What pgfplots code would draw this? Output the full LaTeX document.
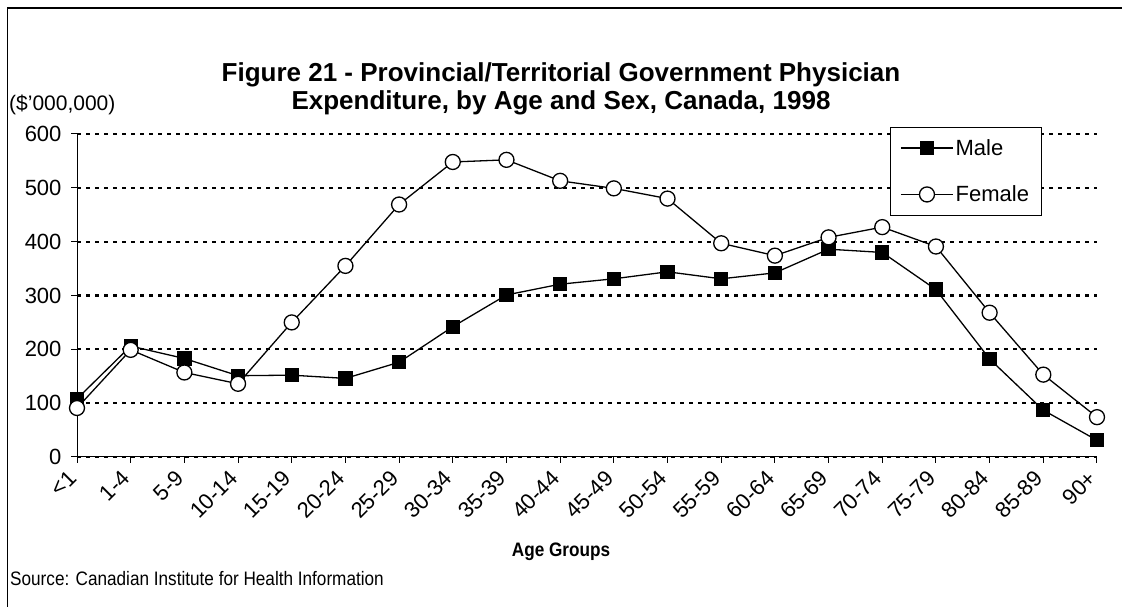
\documentclass[border=0pt]{standalone}
\usepackage{pgfplots}
\pgfplotsset{compat=1.18}
\usepackage{fontspec}
\setmainfont{Liberation Sans}
\newfontfamily\condfont[FakeStretch=0.88]{Liberation Sans}
\begin{document}
\begin{tikzpicture}[x=1pt,y=1pt]
\useasboundingbox (0,0) rectangle (1122,607);
\fill[white] (0,0) rectangle (1122,607);
\draw[line width=1.5pt] (7.5,0) |- (1122,599);
\node[font=\fontsize{26}{28}\selectfont\bfseries, align=center] at (561,518) {Figure 21 - Provincial/Territorial Government Physician\\Expenditure, by Age and Sex, Canada, 1998};
\node[font=\fontsize{21}{24}\selectfont, anchor=west, inner sep=0pt] at (9,502) {(\$'000,000)};
\node[font=\condfont\fontsize{19.5}{22}\selectfont\bfseries, inner sep=0pt] at (561,55) {Age Groups};
\node[font=\condfont\fontsize{19.5}{22}\selectfont, anchor=west, inner sep=0pt] at (10,28) {Source: Canadian Institute for Health Information};
\begin{axis}[
  at={(77pt,150pt)}, anchor=origin,
  scale only axis, width=1020pt, height=323pt,
  xmin=0, xmax=19, ymin=0, ymax=600,
  axis x line=bottom, axis y line=left,
  axis line style={-, line width=1pt},
  tick align=outside, major tick length=6pt,
  tick style={black, line width=1pt},
  xtick={0,...,19},
  xticklabels={<1,1-4,5-9,10-14,15-19,20-24,25-29,30-34,35-39,40-44,45-49,50-54,55-59,60-64,65-69,70-74,75-79,80-84,85-89,90+},
  xticklabel style={xshift=-10pt, yshift=-3pt, rotate=45, anchor=north east, font=\fontsize{22}{24}\selectfont, inner sep=2pt},
  ytick={0,100,...,600},
  yticklabel style={font=\fontsize{22}{24}\selectfont, xshift=-6pt},
  /pgf/number format/assume math mode=true,
  ymajorgrids,
  major grid style={black, line width=2.2pt, dash pattern=on 4pt off 5pt},
  clip=false,
  legend style={at={(0.797,1.022)}, anchor=north west, draw=black, line width=0.8pt,
    font=\fontsize{22}{24}\selectfont, row sep=25pt, inner xsep=10pt, inner ysep=10pt,
    /tikz/every even column/.append style={column sep=0pt}},
  legend cell align=left,
  legend image code/.code={\draw[mark repeat=2,mark phase=2,#1] plot coordinates {(0pt,0pt) (26pt,0pt) (52pt,0pt)};},
]
\addplot[black, line width=1.3pt, mark=square*, mark size=6.5pt, mark options={solid, fill=black}] coordinates {
(0,108) (1,206) (2,183) (3,151) (4,152) (5,146) (6,176) (7,242) (8,301) (9,321)
(10,331) (11,344) (12,331) (13,342) (14,386) (15,380) (16,311) (17,182) (18,87) (19,31)};
\addlegendentry{Male}
\addplot[black, line width=1.3pt, mark=*, mark size=7.5pt, mark options={solid, fill=white}] coordinates {
(0,91) (1,199) (2,157) (3,136) (4,250) (5,355) (6,469) (7,548) (8,552) (9,513)
(10,499) (11,480) (12,397) (13,374) (14,408) (15,427) (16,391) (17,268) (18,153) (19,74)};
\addlegendentry{Female}
\end{axis}
\end{tikzpicture}
\end{document}
